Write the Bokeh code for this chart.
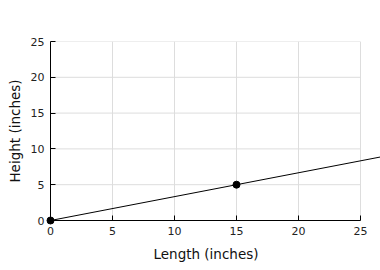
from bokeh.plotting import figure
from bokeh.models import Range1d, FixedTicker, Slope, Title
from bokeh.embed import file_html
from bokeh.resources import INLINE

# Data
px = [0, 15]
py = [0, 5]
x_ticks = [0, 5, 10, 15, 20, 25]
y_ticks = [0, 5, 10, 15, 20, 25]
x_label = "Length (inches)"
y_label = "Height (inches)"

x_max = 25
y_max = 25
frame_w = 330
axis_w = 310

p = figure(width=380, height=270, output_backend="svg", toolbar_location=None,
           x_range=Range1d(0, x_max * frame_w / axis_w), y_range=Range1d(0, y_max),
           frame_width=frame_w, frame_height=179,
           min_border_left=50, min_border_right=0, min_border_top=41, min_border_bottom=50)
p.outline_line_color = None
p.background_fill_color = "white"
p.border_fill_color = "white"

# grid
p.xgrid.ticker = FixedTicker(ticks=x_ticks[1:])
p.xgrid.grid_line_color = "#dddddd"
p.ygrid.grid_line_color = None
gy = y_ticks[1:]
p.segment(x0=[0] * len(gy), x1=[x_max] * len(gy), y0=gy, y1=gy,
          line_color="#dddddd", line_width=1)

# axes
for ax, ticks in ((p.xaxis[0], x_ticks), (p.yaxis[0], y_ticks)):
    ax.ticker = FixedTicker(ticks=ticks)
    ax.bounds = (0, 25)
    ax.major_tick_in = 5
    ax.major_tick_out = 0
    ax.minor_tick_line_color = None
    ax.axis_line_color = "black"
    ax.major_tick_line_color = "black"
    ax.major_label_text_font = "DejaVu Sans"
    ax.major_label_text_font_size = "11px"
    ax.major_label_text_color = "#222222"
    ax.major_label_standoff = 6

p.yaxis.axis_label = y_label
p.yaxis.axis_label_text_font = "DejaVu Sans"
p.yaxis.axis_label_text_font_size = "13.5px"
p.yaxis.axis_label_text_font_style = "normal"
p.yaxis.axis_label_text_color = "#111111"
p.yaxis.axis_label_standoff = 5

# x axis title centred under the axis (0..25), not the wider frame
p.add_layout(Title(text=x_label, align="left", offset=103, standoff=12,
                   text_font="DejaVu Sans", text_font_size="13.5px",
                   text_font_style="normal", text_color="#111111"), "below")

# line through the points
slope = Slope(gradient=(py[1] - py[0]) / (px[1] - px[0]), y_intercept=py[0],
              line_color="black", line_width=1)
p.add_layout(slope)

p.scatter(px, py, size=7, color="black", level="overlay")

open("out.html", "w").write(file_html(p, INLINE))
